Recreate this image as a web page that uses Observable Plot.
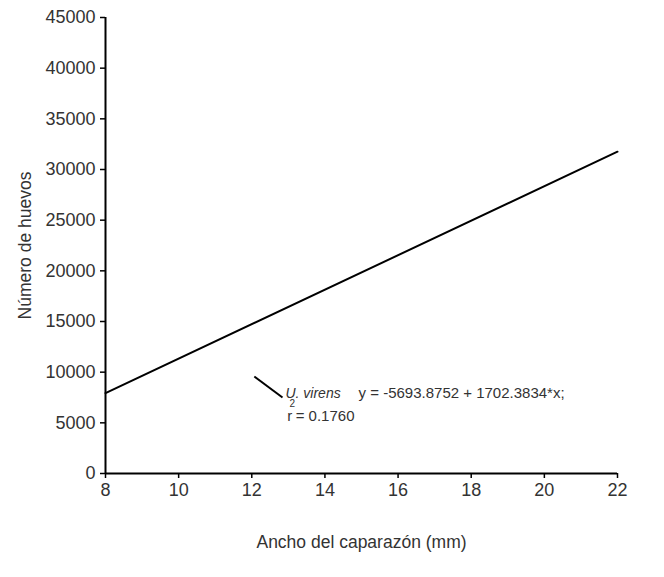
<!DOCTYPE html>
<html>
<head>
<meta charset="utf-8">
<script src="https://cdn.jsdelivr.net/npm/d3@7"></script>
<script src="https://cdn.jsdelivr.net/npm/@observablehq/plot@0.6"></script>
<style>
  html, body { margin: 0; padding: 0; background: #fff; }
  #chart svg { display: block; }
</style>
</head>
<body>
<div id="chart"></div>
<script>
// Regression of egg number on carapace width (U. virens)
const intercept = -5693.8752;
const slope = 1702.3834;
const widthRange = [8, 22];
const xTicks = [8, 10, 12, 14, 16, 18, 20, 22];
const yTicks = [0, 5000, 10000, 15000, 20000, 25000, 30000, 35000, 40000, 45000];

const fitLine = widthRange.map(x => ({x, y: intercept + slope * x}));

// Legend key segment and labels placed in data space
const keySegment = [{x1: 12.07, y1: 9570, x2: 12.84, y2: 7500}];
const speciesLabel = [{x: 12.92, y: 7900, text: "U. virens"}];
const eqLabel = [{x: 14.92, y: 7900, text: "y = -5693.8752 + 1702.3834*x;"}];
const rLabel = [{x: 12.97, y: 5700, text: "r"}];
const rSup = [{x: 13.03, y: 6900, text: "2"}];
const rValue = [{x: 13.2, y: 5700, text: "= 0.1760"}];

const font = "Liberation Sans, Arial, sans-serif";
const ink = "#333";

const chart = Plot.plot({
  width: 664,
  height: 577,
  marginLeft: 105,
  marginRight: 47,
  marginTop: 17,
  marginBottom: 104,
  style: {fontFamily: font, fontSize: "16px", color: ink, background: "#fff"},
  x: {domain: widthRange, axis: null},
  y: {domain: [0, 45000], axis: null},
  marks: [
    // tick marks and tick labels
    Plot.axisX(xTicks, {tickSize: 5, tickPadding: 5, fontSize: 18, color: "#000", fill: ink, strokeWidth: 1.5,
      label: null}),
    Plot.axisY(yTicks, {tickSize: 5, tickPadding: 5, fontSize: 18, color: "#000", fill: ink, strokeWidth: 1.5,
      tickFormat: d => String(d), label: null}),
    // axis titles
    Plot.text(["Ancho del caparazón (mm)"], {frameAnchor: "bottom", textAnchor: "middle", dy: 74, fontSize: 17.5, fill: ink}),
    Plot.text(["Número de huevos"], {frameAnchor: "left", textAnchor: "middle", dx: -80, rotate: -90, fontSize: 17.5, fill: ink}),
    Plot.ruleY([0], {stroke: "#000", strokeWidth: 2}),
    Plot.ruleX([8], {stroke: "#000", strokeWidth: 2}),
    Plot.line(fitLine, {x: "x", y: "y", stroke: "#000", strokeWidth: 2}),
    Plot.link(keySegment, {x1: "x1", y1: "y1", x2: "x2", y2: "y2", stroke: "#000", strokeWidth: 2}),
    Plot.text(speciesLabel, {x: "x", y: "y", text: "text", textAnchor: "start", fontSize: 14, fontStyle: "italic", fill: ink}),
    Plot.text(eqLabel, {x: "x", y: "y", text: "text", textAnchor: "start", fontSize: 15, fill: ink}),
    Plot.text(rLabel, {x: "x", y: "y", text: "text", textAnchor: "start", fontSize: 15, fill: ink}),
    Plot.text(rSup, {x: "x", y: "y", text: "text", textAnchor: "start", fontSize: 10, fill: ink}),
    Plot.text(rValue, {x: "x", y: "y", text: "text", textAnchor: "start", fontSize: 15, fill: ink})
  ]
});
document.getElementById("chart").append(chart);
</script>
</body>
</html>
